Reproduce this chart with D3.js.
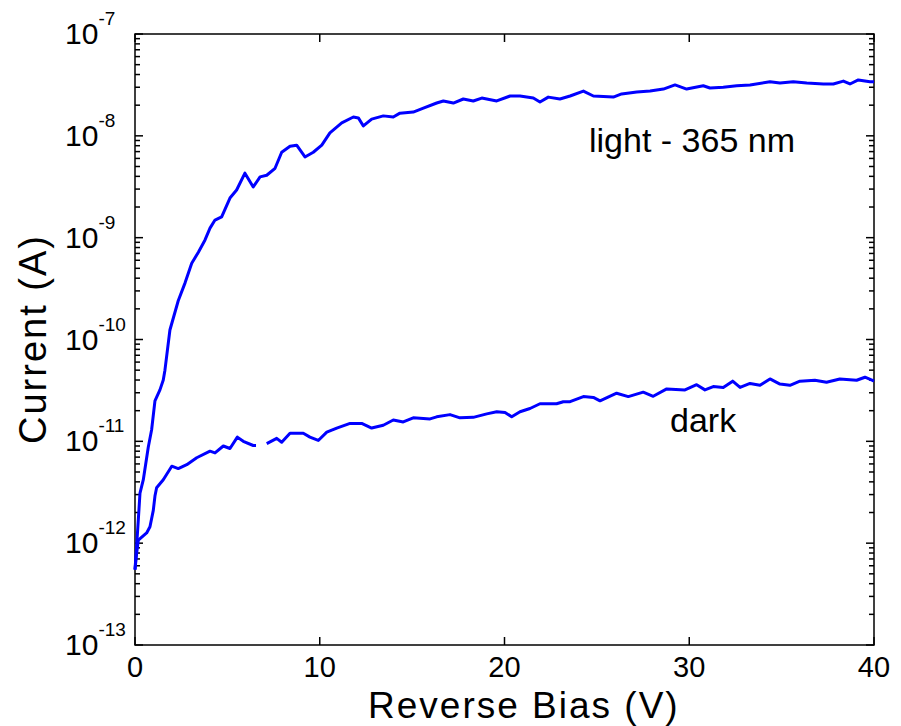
<!DOCTYPE html>
<html>
<head>
<meta charset="utf-8">
<script src="https://cdn.jsdelivr.net/npm/d3@7"></script>
<style>
  body { margin: 0; background: #fff; }
  svg { display: block; font-family: "Liberation Sans", Arial, Helvetica, sans-serif; }
</style>
</head>
<body>
<svg id="chart" width="901" height="726"></svg>
<script>
// Photocurrent under 365 nm illumination vs. dark current, reverse bias sweep
const lightVoltage = [0, 0.09, 0.18, 0.27, 0.45, 0.72, 0.90, 1.08, 1.35, 1.53, 1.62, 1.89, 2.34, 2.71, 3.07, 3.43, 3.79, 4.06, 4.33, 4.69, 5.14, 5.50, 5.95, 6.40, 6.77, 7.13, 7.58, 7.94, 8.39, 8.75, 9.20, 9.65, 10.11, 10.55, 11.19, 11.82, 12.09, 12.36, 12.81, 13.44, 13.98, 14.34, 15.06, 15.61, 16.33, 16.69, 17.23, 17.77, 18.31, 18.77, 19.58, 20.30, 20.84, 21.56, 21.92, 22.37, 23.00, 23.55, 24.27, 24.81, 25.89, 26.34, 27.16, 27.88, 28.60, 29.23, 29.86, 30.76, 31.12, 31.84, 32.57, 33.29, 34.37, 34.91, 35.63, 36.36, 37.26, 37.80, 38.34, 38.70, 39.15, 39.78, 40];
const lightCurrent = [5.5e-13, 9.5e-13, 1.7e-12, 3.1e-12, 4.2e-12, 8.8e-12, 1.3e-11, 2.5e-11, 3.2e-11, 4.0e-11, 5.0e-11, 1.24e-10, 2.4e-10, 3.6e-10, 5.6e-10, 7.2e-10, 9.5e-10, 1.24e-9, 1.49e-9, 1.6e-9, 2.45e-9, 2.94e-9, 4.3e-9, 3.15e-9, 3.95e-9, 4.1e-9, 4.8e-9, 6.9e-9, 7.9e-9, 8.1e-9, 6.2e-9, 6.9e-9, 8.1e-9, 1.07e-8, 1.34e-8, 1.53e-8, 1.5e-8, 1.25e-8, 1.46e-8, 1.57e-8, 1.53e-8, 1.67e-8, 1.71e-8, 1.87e-8, 2.1e-8, 2.2e-8, 2.1e-8, 2.3e-8, 2.2e-8, 2.35e-8, 2.2e-8, 2.46e-8, 2.46e-8, 2.35e-8, 2.15e-8, 2.4e-8, 2.3e-8, 2.46e-8, 2.75e-8, 2.46e-8, 2.4e-8, 2.58e-8, 2.7e-8, 2.75e-8, 2.88e-8, 3.16e-8, 2.88e-8, 3.1e-8, 2.95e-8, 3.0e-8, 3.1e-8, 3.16e-8, 3.4e-8, 3.3e-8, 3.4e-8, 3.3e-8, 3.23e-8, 3.23e-8, 3.45e-8, 3.23e-8, 3.54e-8, 3.4e-8, 3.4e-8];

// null marks the missing samples around 6.5-7 V in the dark sweep
const darkVoltage = [0, 0.09, 0.18, 0.63, 0.81, 0.99, 1.08, 1.17, 1.53, 1.99, 2.34, 2.80, 3.34, 4.06, 4.33, 4.78, 5.14, 5.54, 5.86, 6.40, 6.55, 6.85, 7.13, 7.67, 7.94, 8.39, 9.11, 9.47, 9.92, 10.38, 10.92, 11.64, 12.27, 12.81, 13.44, 13.98, 14.52, 15.06, 15.97, 16.33, 17.05, 17.59, 18.31, 19.04, 19.58, 20.03, 20.39, 20.84, 21.38, 21.92, 22.82, 23.18, 23.55, 24.27, 24.81, 25.17, 26.07, 26.70, 27.51, 28.05, 28.78, 29.77, 30.40, 30.85, 31.30, 31.84, 32.35, 32.75, 33.29, 33.83, 34.37, 34.91, 35.45, 35.99, 36.80, 37.43, 38.15, 39.06, 39.51, 39.89, 40];
const darkCurrent = [5.5e-13, 8.0e-13, 1.07e-12, 1.26e-12, 1.45e-12, 2.1e-12, 2.9e-12, 3.5e-12, 4.2e-12, 5.7e-12, 5.4e-12, 5.9e-12, 6.9e-12, 8.0e-12, 7.7e-12, 9.0e-12, 8.5e-12, 1.1e-11, 1.0e-11, 9.1e-12, 9.1e-12, null, 9.5e-12, 1.07e-11, 9.8e-12, 1.2e-11, 1.2e-11, 1.1e-11, 1.02e-11, 1.23e-11, 1.35e-11, 1.5e-11, 1.5e-11, 1.35e-11, 1.44e-11, 1.62e-11, 1.55e-11, 1.7e-11, 1.66e-11, 1.74e-11, 1.83e-11, 1.7e-11, 1.72e-11, 1.86e-11, 1.95e-11, 1.92e-11, 1.74e-11, 1.95e-11, 2.1e-11, 2.34e-11, 2.34e-11, 2.45e-11, 2.45e-11, 2.75e-11, 2.7e-11, 2.5e-11, 2.97e-11, 2.75e-11, 3.04e-11, 2.77e-11, 3.27e-11, 3.2e-11, 3.6e-11, 3.2e-11, 3.45e-11, 3.38e-11, 3.9e-11, 3.38e-11, 3.7e-11, 3.55e-11, 4.1e-11, 3.65e-11, 3.55e-11, 3.9e-11, 3.98e-11, 3.8e-11, 4.1e-11, 3.98e-11, 4.26e-11, 3.98e-11, 3.9e-11];

const xTicks = [0, 10, 20, 30, 40];
const yExponents = [-13, -12, -11, -10, -9, -8, -7];
const seriesLabels = ["light - 365 nm", "dark"];

const svg = d3.select("#chart");
const plot = { left: 135, right: 874, top: 34, bottom: 645 };

const x = d3.scaleLinear().domain([0, 40]).range([plot.left, plot.right]);
const y = d3.scaleLog().domain([1e-13, 1e-7]).range([plot.bottom, plot.top]);

// minor log ticks: 2..9 within every decade
const minorTicks = [];
for (let e = -13; e < -7; e++) {
  for (let k = 2; k <= 9; k++) minorTicks.push(k * Math.pow(10, e));
}
const majorY = yExponents.map(e => Math.pow(10, e));

const axisG = svg.append("g").attr("stroke", "#000").attr("stroke-width", 1.5).attr("fill", "none");

// inward ticks on all four sides
const tickG = axisG.append("g");
majorY.forEach(v => {
  tickG.append("line").attr("x1", plot.left).attr("x2", plot.left + 8).attr("y1", y(v)).attr("y2", y(v));
  tickG.append("line").attr("x1", plot.right).attr("x2", plot.right - 8).attr("y1", y(v)).attr("y2", y(v));
});
minorTicks.forEach(v => {
  tickG.append("line").attr("x1", plot.left).attr("x2", plot.left + 5).attr("y1", y(v)).attr("y2", y(v));
  tickG.append("line").attr("x1", plot.right).attr("x2", plot.right - 5).attr("y1", y(v)).attr("y2", y(v));
});
xTicks.forEach(v => {
  tickG.append("line").attr("x1", x(v)).attr("x2", x(v)).attr("y1", plot.bottom).attr("y2", plot.bottom - 8);
  tickG.append("line").attr("x1", x(v)).attr("x2", x(v)).attr("y1", plot.top).attr("y2", plot.top + 8);
});

// frame
axisG.append("rect")
  .attr("x", plot.left).attr("y", plot.top)
  .attr("width", plot.right - plot.left).attr("height", plot.bottom - plot.top);

// curves
const line = d3.line()
  .defined(d => d[1] != null)
  .x(d => x(d[0]))
  .y(d => y(d[1]));

const lightData = lightVoltage.map((v, i) => [v, lightCurrent[i]]);
const darkData = darkVoltage.map((v, i) => [v, darkCurrent[i]]);

[lightData, darkData].forEach(data => {
  svg.append("path")
    .datum(data)
    .attr("fill", "none")
    .attr("stroke", "#0000ff")
    .attr("stroke-width", 3)
    .attr("stroke-linejoin", "round")
    .attr("d", line);
});

// y tick labels: 10 with superscript exponent
yExponents.forEach(e => {
  const t = svg.append("text")
    .attr("x", 65)
    .attr("y", y(Math.pow(10, e)) + 10)
    .attr("font-size", 30)
    .attr("fill", "#000");
  t.append("tspan").text("10");
  t.append("tspan").attr("font-size", 19).attr("dy", -19).text(String(e));
});

// x tick labels
xTicks.forEach(v => {
  svg.append("text")
    .attr("x", x(v))
    .attr("y", 677)
    .attr("text-anchor", "middle")
    .attr("font-size", 29)
    .attr("fill", "#000")
    .text(v);
});

// axis titles
svg.append("text")
  .attr("x", 368).attr("y", 718)
  .attr("font-size", 37)
  .attr("letter-spacing", 2)
  .attr("fill", "#000")
  .text("Reverse Bias (V)");

svg.append("text")
  .attr("transform", "translate(46,339) rotate(-90)")
  .attr("text-anchor", "middle")
  .attr("font-size", 38)
  .attr("letter-spacing", 2)
  .attr("fill", "#000")
  .text("Current (A)");

// series annotations
svg.append("text")
  .attr("x", 589).attr("y", 152)
  .attr("font-size", 34)
  .attr("fill", "#000")
  .text(seriesLabels[0]);

svg.append("text")
  .attr("x", 670).attr("y", 432)
  .attr("font-size", 34)
  .attr("fill", "#000")
  .text(seriesLabels[1]);
</script>
</body>
</html>
